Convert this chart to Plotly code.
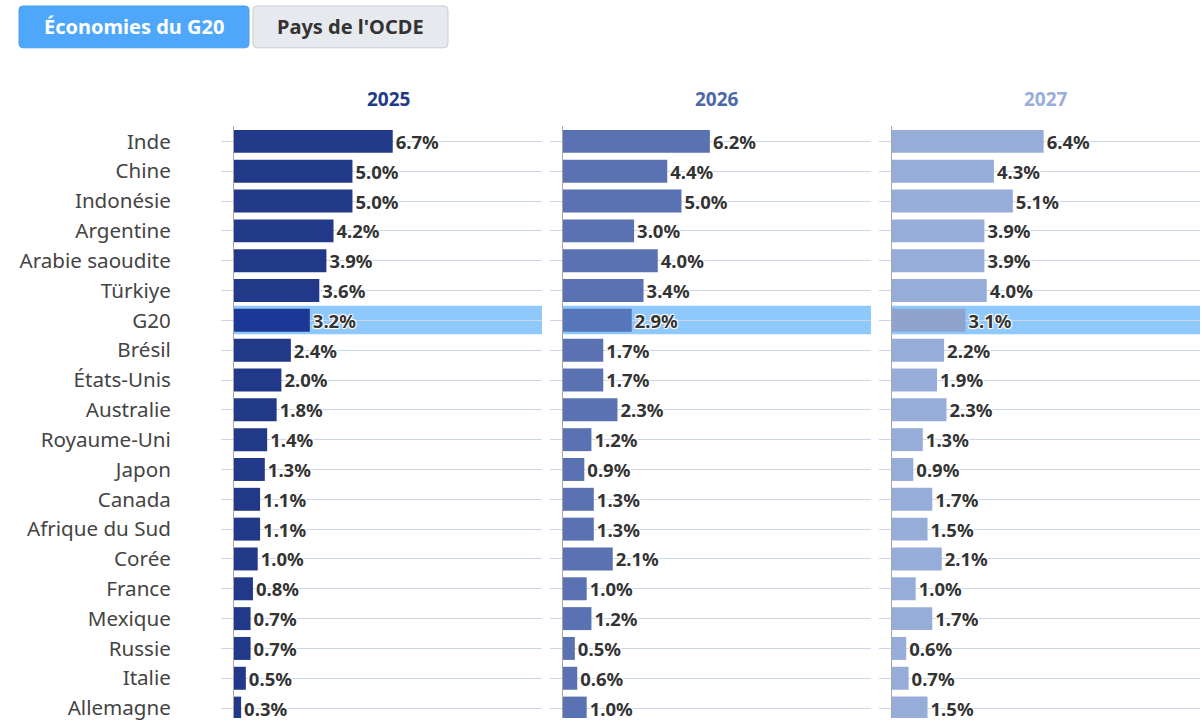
import plotly.graph_objects as go
from plotly.subplots import make_subplots

countries = ["Inde", "Chine", "Indonésie", "Argentine", "Arabie saoudite", "Türkiye", "G20",
             "Brésil", "États-Unis", "Australie", "Royaume-Uni", "Japon", "Canada",
             "Afrique du Sud", "Corée", "France", "Mexique", "Russie", "Italie", "Allemagne"]
years = ["2025", "2026", "2027"]
v2025 = [6.7, 5.0, 5.0, 4.2, 3.9, 3.6, 3.2, 2.4, 2.0, 1.8, 1.4, 1.3, 1.1, 1.1, 1.0, 0.8, 0.7, 0.7, 0.5, 0.3]
v2026 = [6.2, 4.4, 5.0, 3.0, 4.0, 3.4, 2.9, 1.7, 1.7, 2.3, 1.2, 0.9, 1.3, 1.3, 2.1, 1.0, 1.2, 0.5, 0.6, 1.0]
v2027 = [6.4, 4.3, 5.1, 3.9, 3.9, 4.0, 3.1, 2.2, 1.9, 2.3, 1.3, 0.9, 1.7, 1.5, 2.1, 1.0, 1.7, 0.6, 0.7, 1.5]
series = [v2025, v2026, v2027]
highlight = "G20"
buttons = ["Économies du G20", "Pays de l'OCDE"]

W, H = 1202, 721
bar_colors = ["#22398a", "#5a72b1", "#97add9"]
hl_bar_colors = ["#1b3896", "#5675bb", "#8ea4cf"]
header_colors = ["#1f3a8a", "#4d68aa", "#98aeda"]
band_color = "#8fc8fb"
grid_color = "#ccd6eb"
FONT = "Noto Sans"

panels_px = [(234, 542), (563, 871), (892, 1200)]


def px_x(x):
    return x / W


def px_y(y):
    return 1 - y / H


fig = make_subplots(rows=1, cols=3, shared_yaxes=False, horizontal_spacing=0.02)

for i, (vals, yr) in enumerate(zip(series, years)):
    colors = [hl_bar_colors[i] if c == highlight else bar_colors[i] for c in countries]
    fig.add_trace(go.Bar(
        x=vals, y=countries, orientation="h",
        marker=dict(color=colors, line=dict(width=0)),
        width=0.77,
        text=[f"{v:.1f}%" for v in vals],
        textposition="outside",
        constraintext="none",
        cliponaxis=False,
        textfont=dict(family=FONT, size=18.5, color="#333333", weight="bold",
                      shadow="1px 1px 1px #fff, -1px -1px 1px #fff, 1px -1px 1px #fff, -1px 1px 1px #fff"),
        hoverinfo="skip",
        showlegend=False,
    ), row=1, col=i + 1)

y_top = px_y(127)
y_range = [(721 - 142) / 29.95, -0.5]

for i, (x0, x1) in enumerate(panels_px):
    xa = "xaxis" if i == 0 else f"xaxis{i + 1}"
    ya = "yaxis" if i == 0 else f"yaxis{i + 1}"
    fig.layout[xa].update(domain=[px_x(x0), px_x(x1)], range=[0, 13], visible=False, fixedrange=True)
    fig.layout[ya].update(
        domain=[0, y_top], type="category", categoryorder="array", categoryarray=countries,
        range=y_range, showgrid=True, gridcolor=grid_color, gridwidth=1,
        ticks="outside", ticklen=12, tickcolor=grid_color, tickwidth=1,
        showline=True, linecolor="#a6a6a6", linewidth=1,
        showticklabels=(i == 0), ticklabelstandoff=46,
        tickfont=dict(family=FONT, size=20.6, color="#444444"),
        zeroline=False, fixedrange=True,
    )
    hi = countries.index(highlight)
    xref = "x" if i == 0 else f"x{i + 1}"
    yref = "y" if i == 0 else f"y{i + 1}"
    fig.add_shape(type="rect", xref=f"{xref} domain", yref=yref,
                  x0=0, x1=1, y0=hi - 0.49, y1=hi + 0.47,
                  fillcolor=band_color, line=dict(width=0), layer="below")
    fig.add_annotation(text=f"<b>{years[i]}</b>", xref="paper", yref="paper",
                       x=px_x((x0 + x1) / 2), y=px_y(99), xanchor="center", yanchor="middle",
                       showarrow=False, font=dict(family=FONT, size=19, color=header_colors[i]))


def rrect(x0, y0, x1, y1, r=4):
    rx = r / W
    ry = r / H
    X0, X1 = px_x(x0), px_x(x1)
    Y0, Y1 = px_y(y0), px_y(y1)
    return (f"M {X0 + rx} {Y0} L {X1 - rx} {Y0} Q {X1} {Y0} {X1} {Y0 - ry} "
            f"L {X1} {Y1 + ry} Q {X1} {Y1} {X1 - rx} {Y1} L {X0 + rx} {Y1} "
            f"Q {X0} {Y1} {X0} {Y1 + ry} L {X0} {Y0 - ry} Q {X0} {Y0} {X0 + rx} {Y0} Z")


btn_boxes = [(19, 6, 249, 48), (253, 6, 448, 48)]
btn_fill = ["#4ea7fb", "#e6e9ed"]
btn_line = ["#4a9fef", "#c9cdd2"]
btn_text = ["#ffffff", "#333333"]
for (bx0, by0, bx1, by1), label, f, l, t in zip(btn_boxes, buttons, btn_fill, btn_line, btn_text):
    fig.add_shape(type="path", xref="paper", yref="paper", path=rrect(bx0, by0, bx1, by1),
                  fillcolor=f, line=dict(color=l, width=1), layer="above")
    fig.add_annotation(text=f"<b>{label}</b>", xref="paper", yref="paper",
                       x=px_x((bx0 + bx1) / 2), y=px_y((by0 + by1) / 2),
                       xanchor="center", yanchor="middle", showarrow=False,
                       font=dict(family=FONT, size=20, color=t))

fig.update_layout(
    width=W, height=H, margin=dict(l=0, r=0, t=0, b=0),
    paper_bgcolor="white", plot_bgcolor="rgba(0,0,0,0)",
    font=dict(family=FONT),
)

fig.write_html("out.html", config={"displayModeBar": False},
               post_script="document.body.style.margin='0';document.body.style.overflow='hidden';")
